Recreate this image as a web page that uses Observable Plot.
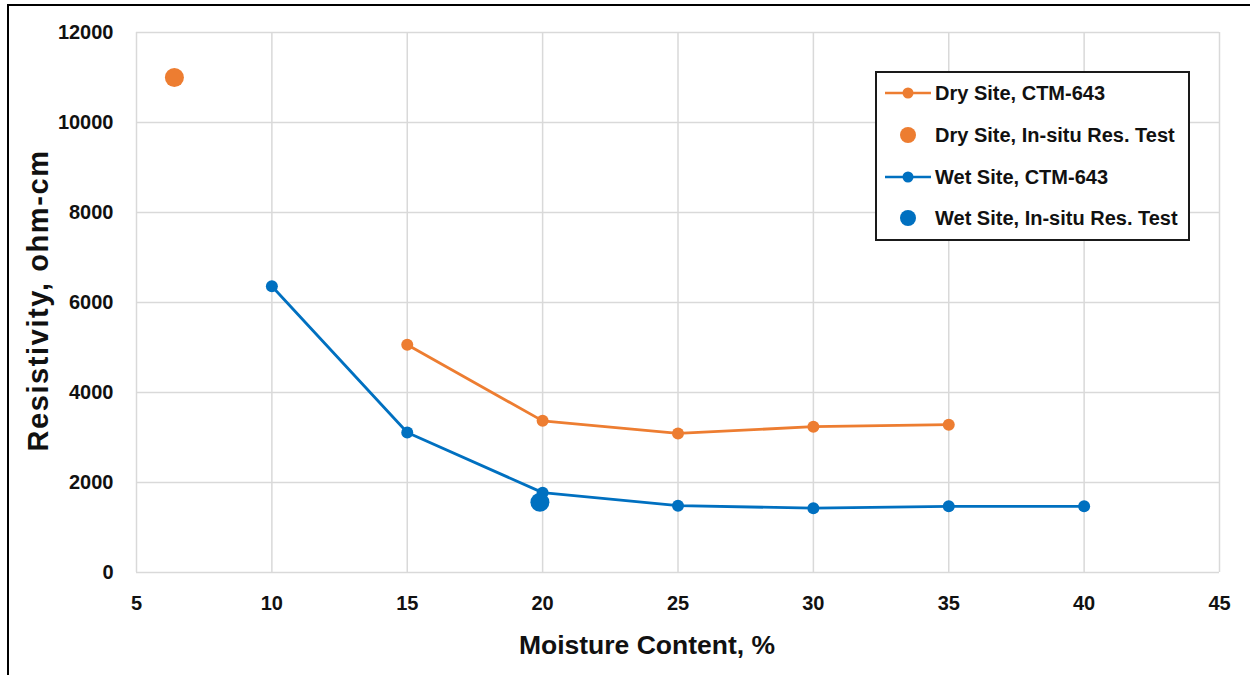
<!DOCTYPE html>
<html>
<head>
<meta charset="utf-8">
<script src="https://cdn.jsdelivr.net/npm/d3@7"></script>
<script src="https://cdn.jsdelivr.net/npm/@observablehq/plot@0.6"></script>
<style>
  html, body { margin: 0; padding: 0; background: #fff; overflow: hidden; }
  body { width: 1250px; height: 675px; position: relative; font-family: "Liberation Sans", Arial, sans-serif; }
  #chart { position: absolute; left: 0; top: 0; }
  #frame { position: absolute; left: 7px; top: 4px; width: 1300px; height: 720px; border-left: 2px solid #000; border-top: 2px solid #000; pointer-events: none; }
  #legend { position: absolute; left: 875px; top: 71px; width: 311px; height: 166px; border: 2px solid #1a1a1a; background: #fff; }
  .row { position: absolute; left: 0; height: 24px; display: flex; align-items: center; }
  .row svg { margin-left: 8px; }
  .row span { margin-left: 4px; font-weight: bold; font-size: 20px; color: #111; white-space: nowrap; }
  .ytitle text { letter-spacing: 1.6px; }
</style>
</head>
<body>
<div id="chart"></div>
<div id="frame"></div>
<div id="legend"></div>
<script>
// ---- data ----
const seriesNames = ["Dry Site, CTM-643", "Dry Site, In-situ Res. Test", "Wet Site, CTM-643", "Wet Site, In-situ Res. Test"];
const dryMoisture = [15, 20, 25, 30, 35];
const dryResistivity = [5060, 3370, 3090, 3240, 3285];
const wetMoisture = [10, 15, 20, 25, 30, 35, 40];
const wetResistivity = [6360, 3110, 1775, 1485, 1430, 1470, 1470];
const dryInsituMoisture = [6.4];
const dryInsituResistivity = [11000];
const wetInsituMoisture = [19.9];
const wetInsituResistivity = [1560];
const xTicks = [5, 10, 15, 20, 25, 30, 35, 40, 45];
const yTicks = [0, 2000, 4000, 6000, 8000, 10000, 12000];
const xTitle = "Moisture Content, %";
const yTitle = "Resistivity, ohm-cm";

const ORANGE = "#ED7D31";
const BLUE = "#0070C0";

const dry = dryMoisture.map((m, i) => ({m, r: dryResistivity[i]}));
const wet = wetMoisture.map((m, i) => ({m, r: wetResistivity[i]}));
const dryIn = dryInsituMoisture.map((m, i) => ({m, r: dryInsituResistivity[i]}));
const wetIn = wetInsituMoisture.map((m, i) => ({m, r: wetInsituResistivity[i]}));

const fmt = d => String(d);

const chart = Plot.plot({
  width: 1250,
  height: 675,
  marginLeft: 136,
  marginTop: 32,
  marginRight: 31,
  marginBottom: 103,
  style: {fontFamily: "'Liberation Sans', Arial, sans-serif", fontSize: "20px", fontWeight: "bold", color: "#111", background: "transparent"},
  x: {domain: [5, 45], ticks: xTicks, tickSize: 0, tickPadding: 23, tickFormat: fmt, label: null},
  y: {domain: [0, 12000], ticks: yTicks, tickSize: 0, tickPadding: 23, tickFormat: fmt, label: null},
  marks: [
    Plot.gridX(xTicks, {stroke: "#d9d9d9", strokeOpacity: 1, strokeWidth: 1.5}),
    Plot.gridY(yTicks, {stroke: "#d9d9d9", strokeOpacity: 1, strokeWidth: 1.5}),
    Plot.axisX(xTicks, {tickSize: 0, tickPadding: 23, tickFormat: fmt, fontSize: 20, fontWeight: "bold", label: null}),
    Plot.axisY(yTicks, {tickSize: 0, tickPadding: 23, tickFormat: fmt, fontSize: 20, fontWeight: "bold", label: null}),
    Plot.line(dry, {x: "m", y: "r", stroke: ORANGE, strokeWidth: 2.8}),
    Plot.dot(dry, {x: "m", y: "r", fill: ORANGE, r: 6}),
    Plot.dot(dryIn, {x: "m", y: "r", fill: ORANGE, r: 9.5}),
    Plot.line(wet, {x: "m", y: "r", stroke: BLUE, strokeWidth: 2.8}),
    Plot.dot(wet, {x: "m", y: "r", fill: BLUE, r: 6}),
    Plot.dot(wetIn, {x: "m", y: "r", fill: BLUE, r: 9.5}),
    Plot.text([xTitle], {frameAnchor: "bottom", dy: 81, dx: -31, fontSize: 26.5, fontWeight: "bold", fill: "#111"}),
    Plot.text([yTitle], {frameAnchor: "left", textAnchor: "middle", lineAnchor: "middle", rotate: -90, dx: -98, dy: -2, fontSize: 29, fontWeight: "bold", fill: "#111", className: "ytitle"})
  ]
});
document.getElementById("chart").appendChild(chart);

// ---- legend ----
const legend = document.getElementById("legend");
const rowTops = [8, 50, 92, 133];
const legendDefs = [
  {color: ORANGE, line: true, r: 5.5},
  {color: ORANGE, line: false, r: 8},
  {color: BLUE, line: true, r: 5.5},
  {color: BLUE, line: false, r: 8}
];
seriesNames.forEach((name, i) => {
  const d = legendDefs[i];
  const row = document.createElement("div");
  row.className = "row";
  row.style.top = rowTops[i] + "px";
  const sw = `<svg width="46" height="24" viewBox="0 0 46 24">${d.line ? `<line x1="0" y1="12" x2="46" y2="12" stroke="${d.color}" stroke-width="2.6"/>` : ""}<circle cx="23" cy="12" r="${d.r}" fill="${d.color}"/></svg>`;
  row.innerHTML = sw + `<span>${name}</span>`;
  legend.appendChild(row);
});
</script>
</body>
</html>
